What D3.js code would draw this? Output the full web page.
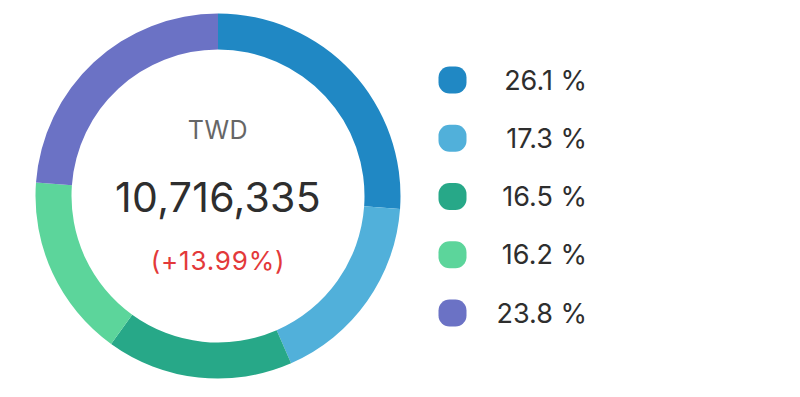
<!DOCTYPE html>
<html>
<head>
<meta charset="utf-8">
<script src="https://cdn.jsdelivr.net/npm/d3@7"></script>
<style>
  html, body { margin: 0; padding: 0; background: #fff; }
  svg { display: block; font-family: Inter, "Noto Sans", sans-serif; }
</style>
</head>
<body>
<script>
// slice shares, clockwise from 12 o'clock
const shares = [26.1, 17.3, 16.5, 16.2, 23.8];
const colors = ["#2088c4", "#51b0da", "#27a888", "#5cd59b", "#6b72c5"];
const currency = "TWD";
const total = 10716335;
const change = 13.99;

const width = 800, height = 397;
const cx = 218, cy = 196;
const outerR = 182.5, innerR = 146.5;

const svg = d3.select("body").append("svg")
  .attr("width", width)
  .attr("height", height);

const pie = d3.pie().sort(null).value(d => d);
const arc = d3.arc().innerRadius(innerR).outerRadius(outerR);

const g = svg.append("g").attr("transform", `translate(${cx},${cy})`);

g.selectAll("path")
  .data(pie(shares))
  .enter()
  .append("path")
  .attr("d", arc)
  .attr("fill", (d, i) => colors[i]);

// centre labels
g.append("text")
  .attr("text-anchor", "middle")
  .attr("y", -57)
  .attr("font-size", 25)
  .attr("letter-spacing", 0.5)
  .attr("fill", "#666")
  .text(currency);

g.append("text")
  .attr("text-anchor", "middle")
  .attr("y", 16)
  .attr("font-size", 41)
  .attr("letter-spacing", 0.3)
  .attr("fill", "#2e2e2e")
  .text(d3.format(",")(total));

g.append("text")
  .attr("text-anchor", "middle")
  .attr("y", 74)
  .attr("font-size", 26)
  .attr("letter-spacing", 0.8)
  .attr("fill", "#e3393a")
  .text(`(+${change.toFixed(2)}%)`);

// legend
const y = d3.scalePoint()
  .domain(d3.range(shares.length))
  .range([80, 313]);

const legend = svg.append("g")
  .selectAll("g")
  .data(shares)
  .enter()
  .append("g")
  .attr("transform", (d, i) => `translate(0,${y(i)})`);

legend.append("rect")
  .attr("x", 438.5)
  .attr("y", -13.5)
  .attr("width", 28)
  .attr("height", 27)
  .attr("rx", 11)
  .attr("fill", (d, i) => colors[i]);

legend.append("text")
  .attr("x", 587)
  .attr("y", 9.5)
  .attr("text-anchor", "end")
  .attr("font-size", 27)
  .attr("fill", "#2e2e2e")
  .text(d => `${d.toFixed(1)} %`);
</script>
</body>
</html>
